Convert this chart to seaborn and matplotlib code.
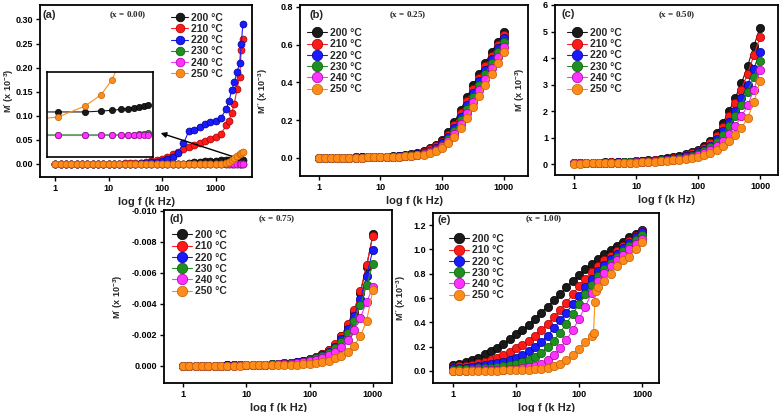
"""
Electric modulus vs frequency, five compositions (x = 0.00 ... 1.00), 200-250 °C.
"""
import matplotlib
matplotlib.use("Agg")
import matplotlib.pyplot as plt
from matplotlib.ticker import NullLocator
import seaborn as sns

# ── Data ─────────────────────────────────────────────────────────────────────

TEMPS = ["200 °C", "210 °C", "220 °C", "230 °C", "240 °C", "250 °C"]

# measurement frequencies (kHz)
F = [1, 1.26, 1.58, 2.0, 2.51, 3.16, 3.98, 5.01, 6.31, 7.94,
     10, 12.6, 15.8, 20.0, 25.1, 31.6, 39.8, 50.1, 63.1, 79.4,
     100, 126, 158, 200, 251, 316, 398, 501, 631, 794, 1000]
F_A = [1, 1.26, 1.58, 2.0, 2.51, 3.16, 3.98, 5.01, 6.31, 7.94,
       10, 12.6, 15.8, 20.0, 25.1, 31.6, 39.8, 50.1, 63.1, 79.4,
       100, 126, 158, 200, 251, 316, 398, 501, 631, 794,
       1000, 1260, 1585, 1780, 2000, 2240, 2510, 2820, 3020, 3240]
F_E250 = [1, 1.26, 1.58, 2.0, 2.51, 3.16, 3.98, 5.01, 6.31, 7.94,
          10, 12.6, 15.8, 20.0, 25.1, 31.6, 39.8, 50.1, 63.1, 79.4,
          100, 126, 158, 170, 178, 186, 200, 251, 316, 398, 501, 631, 794, 1000]

# (a) x = 0.00
A_200 = [0.000] * 25 + [0.002, 0.004, 0.005, 0.006, 0.007, 0.007, 0.008, 0.008,
                        0.008, 0.008, 0.008, 0.008, 0.008, 0.008, 0.008]
A_210 = [0.000, 0.000, 0.000, 0.000, 0.000, 0.001, 0.001, 0.001, 0.001, 0.001,
         0.001, 0.001, 0.001, 0.002, 0.002, 0.002, 0.003, 0.004, 0.006, 0.008,
         0.011, 0.015, 0.020, 0.025, 0.031, 0.036, 0.040, 0.043, 0.048, 0.051,
         0.055, 0.063, 0.080, 0.090, 0.105, 0.125, 0.155, 0.180, 0.236, 0.260]
A_220 = [0.000, 0.000, 0.000, 0.000, 0.000, 0.000, 0.001, 0.001, 0.001, 0.001,
         0.001, 0.001, 0.001, 0.001, 0.001, 0.001, 0.002, 0.003, 0.004, 0.005,
         0.007, 0.010, 0.015, 0.022, 0.043, 0.068, 0.070, 0.077, 0.084, 0.087,
         0.090, 0.095, 0.115, 0.130, 0.153, 0.170, 0.190, 0.210, 0.250, 0.290]
A_230 = [0.000] * 36 + [0.001, 0.001, 0.001, 0.001]
A_240 = [0.000] * 40
A_250 = [0.000] * 32 + [0.003, 0.005, 0.008, 0.012, 0.016, 0.020, 0.022, 0.025]

# (a) inset, magnified low-frequency region
INSET_F = [0.5, 1, 2, 3, 4, 5, 6, 7, 8, 9, 10]
INSET_200 = [0.53, 0.53, 0.53, 0.54, 0.55, 0.56, 0.57, 0.58, 0.59, 0.60, 0.61]
INSET_230 = [0.26, 0.26, 0.26, 0.26, 0.26, 0.26, 0.26, 0.26, 0.27, 0.27, 0.28]
INSET_240 = [0.26, 0.26, 0.26, 0.26, 0.26, 0.26, 0.26, 0.26, 0.26, 0.26, 0.26]
INSET_250 = [0.44, 0.47, 0.60, 0.73, 0.91, 1.15, 1.45, 1.80, 2.2, 2.6, 3.0]

# (b) x = 0.25
B_200 = [0.000, 0.000, 0.001, 0.001, 0.001, 0.001, 0.002, 0.002, 0.002, 0.003,
         0.004, 0.005, 0.007, 0.009, 0.013, 0.018, 0.025, 0.035, 0.049, 0.068,
         0.094, 0.135, 0.190, 0.255, 0.320, 0.385, 0.445, 0.505, 0.560, 0.615, 0.665]
B_210 = [0.000, 0.000, 0.001, 0.001, 0.001, 0.001, 0.002, 0.002, 0.002, 0.003,
         0.003, 0.004, 0.006, 0.008, 0.011, 0.016, 0.022, 0.031, 0.044, 0.061,
         0.085, 0.123, 0.174, 0.236, 0.300, 0.364, 0.425, 0.485, 0.540, 0.597, 0.650]
B_220 = [0.000, 0.000, 0.001, 0.001, 0.001, 0.001, 0.001, 0.002, 0.002, 0.002,
         0.003, 0.004, 0.005, 0.007, 0.010, 0.014, 0.019, 0.027, 0.038, 0.054,
         0.076, 0.111, 0.159, 0.218, 0.281, 0.344, 0.406, 0.466, 0.522, 0.580, 0.635]
B_230 = [0.000, 0.000, 0.000, 0.001, 0.001, 0.001, 0.001, 0.001, 0.002, 0.002,
         0.003, 0.003, 0.005, 0.006, 0.009, 0.012, 0.016, 0.023, 0.033, 0.047,
         0.068, 0.099, 0.143, 0.199, 0.261, 0.323, 0.386, 0.446, 0.503, 0.560, 0.613]
B_240 = [0.000, 0.000, 0.000, 0.001, 0.001, 0.001, 0.001, 0.001, 0.002, 0.002,
         0.002, 0.003, 0.004, 0.006, 0.008, 0.010, 0.014, 0.020, 0.028, 0.041,
         0.060, 0.088, 0.127, 0.178, 0.236, 0.297, 0.358, 0.418, 0.475, 0.533, 0.588]
B_250 = [0.000, 0.000, 0.000, 0.001, 0.001, 0.001, 0.001, 0.001, 0.002, 0.002,
         0.002, 0.003, 0.004, 0.005, 0.007, 0.009, 0.012, 0.017, 0.024, 0.035,
         0.052, 0.078, 0.112, 0.158, 0.210, 0.268, 0.328, 0.388, 0.445, 0.505, 0.560]

# (c) x = 0.50
C_200 = [0.040, 0.045, 0.050, 0.055, 0.060, 0.065, 0.070, 0.075, 0.085, 0.095,
         0.110, 0.125, 0.140, 0.160, 0.190, 0.220, 0.260, 0.310, 0.370, 0.450,
         0.550, 0.680, 0.880, 1.170, 1.550, 2.000, 2.500, 3.050, 3.700, 4.450, 5.150]
C_210 = [0.035, 0.040, 0.045, 0.050, 0.055, 0.060, 0.065, 0.070, 0.078, 0.087,
         0.100, 0.113, 0.128, 0.145, 0.170, 0.200, 0.235, 0.280, 0.335, 0.405,
         0.495, 0.615, 0.790, 1.050, 1.400, 1.820, 2.290, 2.810, 3.410, 4.100, 4.780]
C_220 = [0.032, 0.036, 0.040, 0.045, 0.050, 0.054, 0.058, 0.063, 0.070, 0.078,
         0.090, 0.102, 0.115, 0.130, 0.152, 0.178, 0.210, 0.250, 0.300, 0.360,
         0.440, 0.545, 0.700, 0.930, 1.240, 1.600, 2.020, 2.480, 3.000, 3.600, 4.230]
C_230 = [0.028, 0.032, 0.036, 0.040, 0.044, 0.048, 0.052, 0.056, 0.062, 0.069,
         0.080, 0.091, 0.103, 0.117, 0.137, 0.160, 0.190, 0.225, 0.270, 0.325,
         0.395, 0.490, 0.630, 0.830, 1.100, 1.420, 1.800, 2.230, 2.720, 3.280, 3.900]
C_240 = [0.024, 0.027, 0.030, 0.034, 0.037, 0.040, 0.044, 0.048, 0.053, 0.060,
         0.070, 0.080, 0.091, 0.103, 0.123, 0.145, 0.170, 0.198, 0.235, 0.280,
         0.335, 0.410, 0.525, 0.685, 0.890, 1.140, 1.440, 1.800, 2.220, 2.800, 3.550]
C_250 = [0.020, 0.022, 0.025, 0.028, 0.030, 0.033, 0.036, 0.040, 0.045, 0.050,
         0.060, 0.070, 0.080, 0.090, 0.110, 0.130, 0.150, 0.170, 0.200, 0.230,
         0.270, 0.330, 0.420, 0.540, 0.680, 0.860, 1.080, 1.360, 1.750, 2.330, 3.150]

# (d) x = 0.75
D_200 = [0.0, -0.00001, -0.00001, -0.00001, -0.00002, -0.00002, -0.00002, -0.00003, -0.00003, -0.00004,
         -0.00005, -0.00006, -0.00007, -0.00009, -0.00011, -0.00013, -0.00016, -0.00020, -0.00025, -0.00032,
         -0.00042, -0.00056, -0.00075, -0.00100, -0.00135, -0.00190, -0.00260, -0.00350, -0.00470, -0.00640, -0.00850]
D_210 = [0.0, -0.00001, -0.00001, -0.00001, -0.00002, -0.00002, -0.00002, -0.00003, -0.00003, -0.00004,
         -0.00005, -0.00006, -0.00007, -0.00009, -0.00011, -0.00013, -0.00016, -0.00020, -0.00025, -0.00032,
         -0.00042, -0.00057, -0.00077, -0.00103, -0.00140, -0.00196, -0.00270, -0.00360, -0.00480, -0.00650, -0.00840]
D_220 = [0.0, -0.00001, -0.00001, -0.00001, -0.00002, -0.00002, -0.00002, -0.00003, -0.00003, -0.00004,
         -0.00005, -0.00006, -0.00007, -0.00008, -0.00010, -0.00012, -0.00015, -0.00019, -0.00024, -0.00030,
         -0.00040, -0.00053, -0.00070, -0.00093, -0.00125, -0.00172, -0.00235, -0.00320, -0.00430, -0.00580, -0.00750]
D_230 = [0.0, -0.00001, -0.00001, -0.00001, -0.00001, -0.00002, -0.00002, -0.00002, -0.00003, -0.00003,
         -0.00004, -0.00005, -0.00006, -0.00008, -0.00010, -0.00012, -0.00014, -0.00018, -0.00022, -0.00028,
         -0.00037, -0.00049, -0.00064, -0.00085, -0.00113, -0.00155, -0.00210, -0.00290, -0.00390, -0.00520, -0.00660]
D_240 = [0.0, -0.00001, -0.00001, -0.00001, -0.00001, -0.00001, -0.00002, -0.00002, -0.00002, -0.00003,
         -0.00004, -0.00005, -0.00006, -0.00007, -0.00008, -0.00010, -0.00012, -0.00015, -0.00019, -0.00024,
         -0.00030, -0.00040, -0.00052, -0.00068, -0.00090, -0.00122, -0.00165, -0.00230, -0.00310, -0.00410, -0.00510]
D_250 = [0.0, 0.0, -0.00001, -0.00001, -0.00001, -0.00001, -0.00001, -0.00002, -0.00002, -0.00002,
         -0.00003, -0.00003, -0.00004, -0.00004, -0.00005, -0.00006, -0.00007, -0.00008, -0.00009, -0.00010,
         -0.00013, -0.00018, -0.00025, -0.00035, -0.00048, -0.00065, -0.00090, -0.00130, -0.00190, -0.00290, -0.00490]

# (e) x = 1.00
E_200 = [0.050, 0.060, 0.075, 0.090, 0.110, 0.135, 0.160, 0.190, 0.225, 0.260,
         0.300, 0.340, 0.380, 0.430, 0.480, 0.530, 0.580, 0.630, 0.690, 0.740,
         0.790, 0.840, 0.880, 0.920, 0.960, 0.995, 1.030, 1.060, 1.100, 1.130, 1.160]
E_210 = [0.030, 0.036, 0.043, 0.052, 0.063, 0.076, 0.092, 0.110, 0.130, 0.155,
         0.185, 0.215, 0.250, 0.290, 0.335, 0.385, 0.440, 0.500, 0.560, 0.630,
         0.700, 0.760, 0.815, 0.865, 0.910, 0.950, 0.990, 1.030, 1.070, 1.110, 1.150]
E_220 = [0.020, 0.023, 0.027, 0.032, 0.038, 0.045, 0.053, 0.062, 0.073, 0.088,
         0.105, 0.130, 0.160, 0.195, 0.240, 0.290, 0.350, 0.415, 0.480, 0.550,
         0.620, 0.690, 0.760, 0.820, 0.870, 0.920, 0.965, 1.010, 1.055, 1.100, 1.140]
E_230 = [0.010, 0.012, 0.014, 0.017, 0.020, 0.023, 0.027, 0.032, 0.038, 0.045,
         0.055, 0.070, 0.090, 0.115, 0.150, 0.195, 0.250, 0.315, 0.390, 0.470,
         0.550, 0.630, 0.710, 0.780, 0.840, 0.890, 0.940, 0.985, 1.030, 1.075, 1.120]
E_240 = [0.000, 0.001, 0.002, 0.003, 0.004, 0.005, 0.006, 0.008, 0.010, 0.013,
         0.017, 0.022, 0.030, 0.042, 0.060, 0.090, 0.130, 0.185, 0.255, 0.335,
         0.430, 0.530, 0.640, 0.740, 0.810, 0.860, 0.910, 0.955, 1.000, 1.045, 1.090]
E_250 = [0.000, 0.000, 0.000, 0.001, 0.001, 0.001, 0.002, 0.002, 0.003, 0.004,
         0.005, 0.007, 0.009, 0.012, 0.018, 0.025, 0.040, 0.060, 0.090, 0.130,
         0.180, 0.240, 0.290, 0.310, 0.570, 0.660, 0.690, 0.740, 0.800, 0.860,
         0.910, 0.940, 1.000, 1.060]

# ── Style ────────────────────────────────────────────────────────────────────

COLORS = ["#1a1a1a", "#ff1a1a", "#1a1aff", "#1f8f1f", "#ff33ff", "#ff8c1a"]
EDGES = ["#000000", "#a00000", "#00008c", "#0b5c0b", "#a000a0", "#c06000"]

sns.set_theme(style="ticks")
plt.rcParams["font.family"] = ["Liberation Sans", "DejaVu Sans"]
plt.rcParams["mathtext.default"] = "regular"
plt.rcParams["axes.linewidth"] = 1.3
plt.rcParams["xtick.major.width"] = 1.0
plt.rcParams["ytick.major.width"] = 1.0
plt.rcParams["xtick.major.size"] = 3
plt.rcParams["ytick.major.size"] = 3

W, H = 781, 412
fig = plt.figure(figsize=(W / 100, H / 100), dpi=100)


def box(left, top, right, bottom):
    # pixel box -> figure fraction rect
    return [left / W, 1 - bottom / H, (right - left) / W, (bottom - top) / H]


def draw_panel(ax, curves, tag, comp, tag_xy, comp_xy, ylabel, ylab_x, ylim, yticks,
               yfmt, xlim, leg_xy, ms=6, handlelength=1.9):
    ax.set_xscale("log")
    for (f, vals), temp, c, ec in zip(curves, TEMPS, COLORS, EDGES):
        sns.lineplot(x=f, y=vals, ax=ax, color=c, lw=0.8, marker="o",
                     markersize=ms, markeredgecolor=ec, markeredgewidth=0.5,
                     label=temp, sort=False)
    ax.set_xlim(*xlim)
    ax.set_ylim(*ylim)
    ax.set_xticks([1, 10, 100, 1000])
    ax.set_xticklabels(["1", "10", "100", "1000"])
    ax.xaxis.set_minor_locator(NullLocator())
    ax.set_yticks(yticks)
    ax.set_yticklabels([yfmt.format(v) for v in yticks])
    ax.tick_params(labelsize=6.5, pad=2, colors="black")
    for lab in ax.get_xticklabels() + ax.get_yticklabels():
        lab.set_fontweight("bold")
    ax.set_xlabel("log f (k Hz)", fontsize=8, fontweight="bold", labelpad=3)
    ax.set_ylabel(ylabel, fontsize=6.5, fontweight="bold")
    ax.yaxis.set_label_coords(ylab_x, 0.5)
    ax.text(*tag_xy, tag, transform=ax.transAxes, fontsize=8, fontweight="bold",
            va="center", ha="left")
    ax.text(*comp_xy, "($x$ = " + comp + ")", transform=ax.transAxes, fontsize=6.5,
            fontweight="bold", family=["Liberation Serif", "DejaVu Serif"],
            va="center", ha="center")
    ax.legend(loc="upper left", bbox_to_anchor=leg_xy, frameon=False,
              borderpad=0, borderaxespad=0, labelspacing=0.12,
              handlelength=handlelength, handletextpad=0.35, markerscale=1.25,
              prop={"size": 7.5, "weight": "bold"})
    for s in ax.spines.values():
        s.set_color("black")


M1 = "M$'$ (x 10$^{-3}$)"
M2 = "M$''$ (x 10$^{-3}$)"

# (a)
ax_a = fig.add_axes(box(40, 5, 252, 177))
draw_panel(ax_a, [(F_A, A_200), (F_A, A_210), (F_A, A_220), (F_A, A_230),
                  (F_A, A_240), (F_A, A_250)],
           "(a)", "0.00", (0.014, 0.94), (0.415, 0.94), M1, -0.115, (-0.027, 0.33),
           [0.00, 0.05, 0.10, 0.15, 0.20, 0.25, 0.30], "{:.2f}", (0.52, 4800),
           (0.62, 0.955), ms=5, handlelength=1.55)
ax_a.annotate("", xy=(84, 0.066), xytext=(2230, 0.0145),
              arrowprops=dict(arrowstyle="-|>", color="black", lw=1.0,
                              mutation_scale=8))

ax_in = fig.add_axes(box(47, 72, 153, 157))
ax_in.set_xscale("log")
for vals, c, ec in [(INSET_200, COLORS[0], EDGES[0]), (INSET_230, COLORS[3], EDGES[3]),
                    (INSET_240, COLORS[4], EDGES[4]), (INSET_250, COLORS[5], EDGES[5])]:
    sns.lineplot(x=INSET_F, y=vals, ax=ax_in, color=c, lw=0.8, marker="o",
                 markersize=4.5, markeredgecolor=ec, markeredgewidth=0.5, sort=False)
ax_in.set_xlim(0.755, 11.4)
ax_in.set_ylim(0, 1)
ax_in.set_xticks([])
ax_in.set_yticks([])
ax_in.xaxis.set_minor_locator(NullLocator())
for s in ax_in.spines.values():
    s.set_color("black")
    s.set_linewidth(1.2)

# (b)
ax_b = fig.add_axes(box(300, 5, 528, 176))
draw_panel(ax_b, [(F, B_200), (F, B_210), (F, B_220), (F, B_230), (F, B_240), (F, B_250)],
           "(b)", "0.25", (0.04, 0.94), (0.474, 0.94), M2, -0.13, (-0.097, 0.81),
           [0.0, 0.2, 0.4, 0.6, 0.8], "{:.1f}", (0.5, 2450), (0.03, 0.865))

# (c)
ax_c = fig.add_axes(box(555, 5, 778, 175))
draw_panel(ax_c, [(F, C_200), (F, C_210), (F, C_220), (F, C_230), (F, C_240), (F, C_250)],
           "(c)", "0.50", (0.027, 0.947), (0.547, 0.94), M1, -0.125, (-0.41, 6.0),
           [0, 1, 2, 3, 4, 5, 6], "{:.0f}", (0.49, 1950), (0.054, 0.865))

# (d)
ax_d = fig.add_axes(box(164, 210, 392, 383))
draw_panel(ax_d, [(F, D_200), (F, D_210), (F, D_220), (F, D_230), (F, D_240), (F, D_250)],
           "(d)", "0.75", (0.022, 0.948), (0.496, 0.948), M1, -0.17, (0.0011, -0.01005),
           [0.000, -0.002, -0.004, -0.006, -0.008, -0.010], "{:.3f}", (0.5, 2000),
           (0.035, 0.884))

# (e)
ax_e = fig.add_axes(box(433, 213, 659, 383))
draw_panel(ax_e, [(F, E_200), (F, E_210), (F, E_220), (F, E_230), (F, E_240), (F_E250, E_250)],
           "(e)", "1.00", (0.018, 0.959), (0.491, 0.965), M2, -0.11, (-0.10, 1.30),
           [0.0, 0.2, 0.4, 0.6, 0.8, 1.0, 1.2], "{:.1f}", (0.48, 1860), (0.07, 0.876))

fig.savefig("out.png", dpi=100)
plt.close(fig)
